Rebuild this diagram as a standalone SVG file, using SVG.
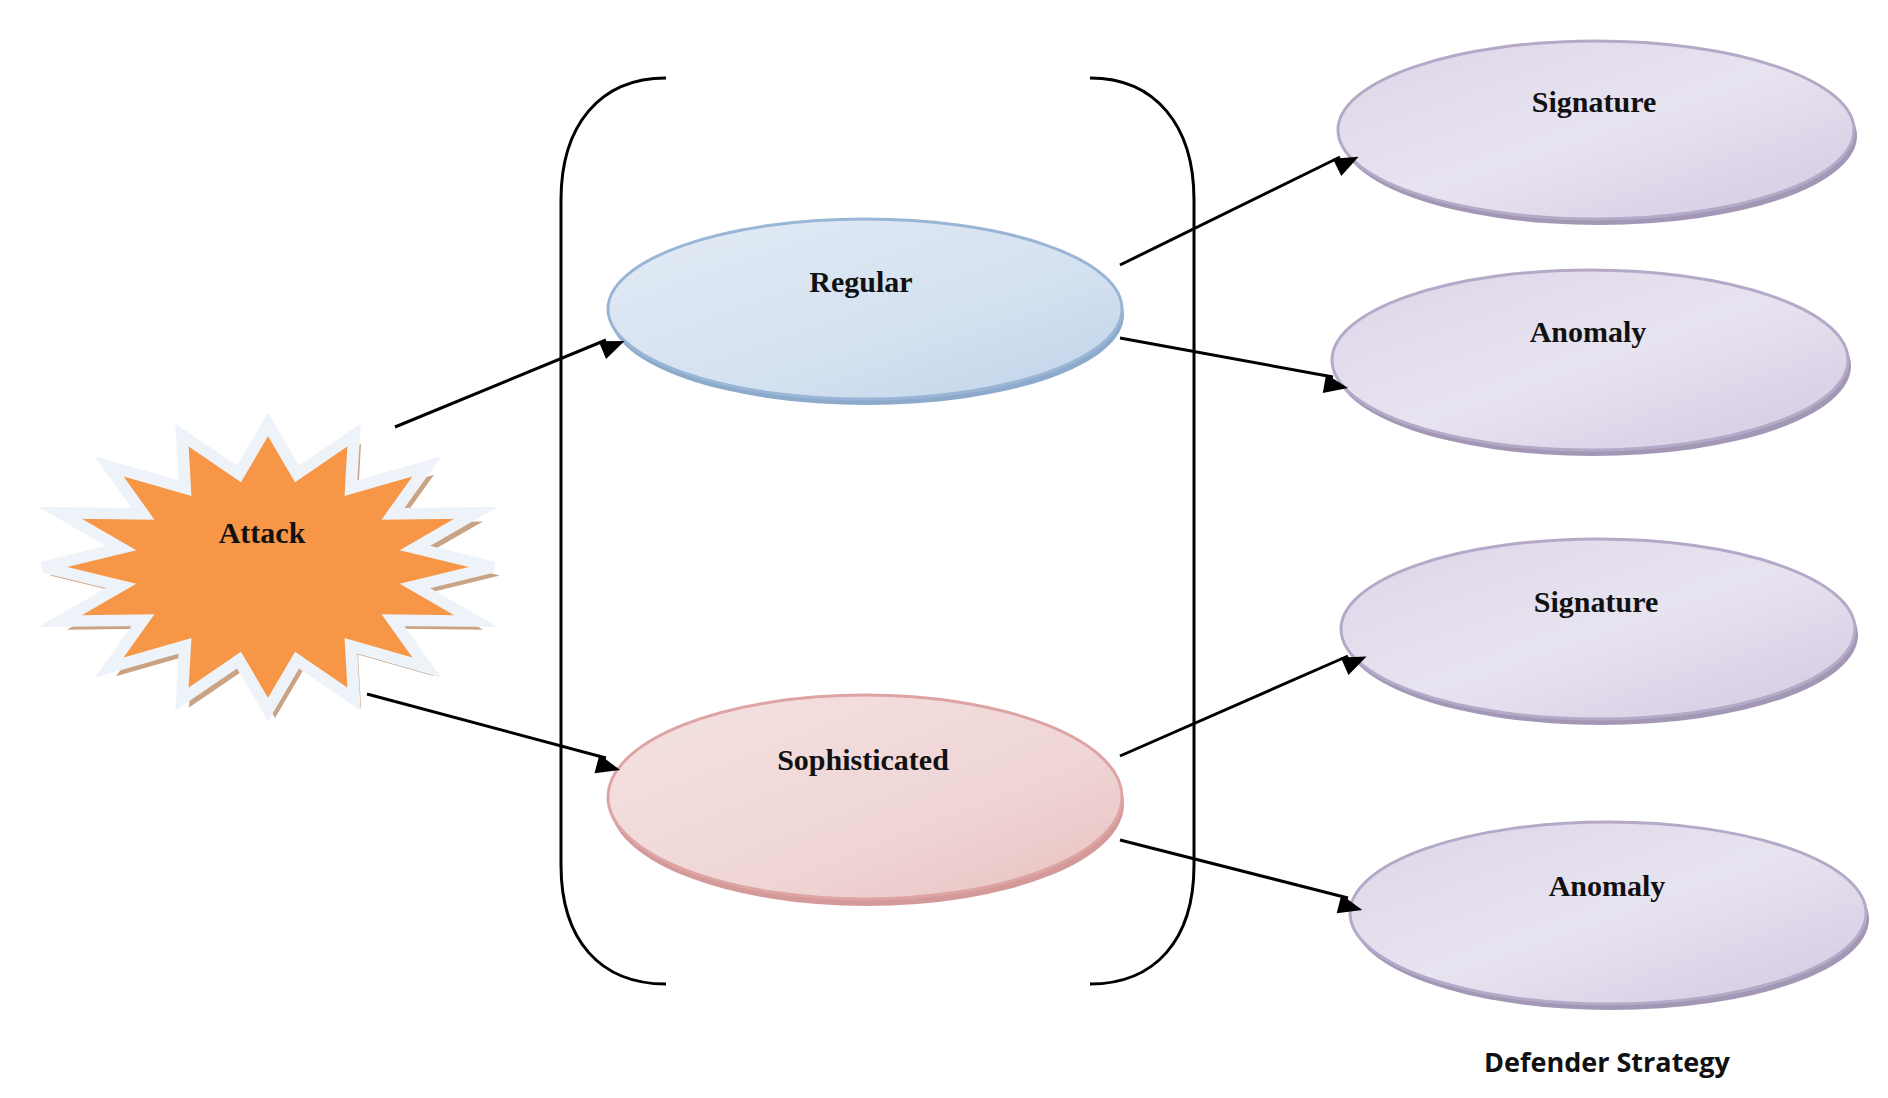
<svg xmlns="http://www.w3.org/2000/svg" width="1888" height="1098" viewBox="0 0 1888 1098">
<style>
.lbl{font-family:"Liberation Serif","Times New Roman",serif;font-weight:bold;font-size:30px;fill:#111;text-anchor:middle}
.cap{font-family:"Open Sans","Liberation Sans",sans-serif;font-weight:bold;font-size:27px;fill:#111;text-anchor:middle}
.conn{stroke:#000;stroke-width:3;fill:none;marker-end:url(#ah)}
.br{stroke:#000;stroke-width:3;fill:none}
</style>
<defs>
<marker id="ah" viewBox="0 0 10 10" refX="9" refY="5" markerWidth="8" markerHeight="8" orient="auto" markerUnits="userSpaceOnUse" style="overflow:visible">
<path d="M0,1 L10,5 L0,9 z" fill="#000" transform="scale(3)" />
</marker>
<linearGradient id="gb" x1="0" y1="0" x2="1" y2="1"><stop offset="0" stop-color="#e3ebf5"/><stop offset="0.6" stop-color="#d4e1f0"/><stop offset="1" stop-color="#c0d3ea"/></linearGradient>
<linearGradient id="gr" x1="0" y1="0" x2="1" y2="1"><stop offset="0" stop-color="#f4e1e1"/><stop offset="0.6" stop-color="#f0d6d6"/><stop offset="1" stop-color="#e8c0c0"/></linearGradient>
<linearGradient id="gp" x1="0" y1="0" x2="1" y2="1"><stop offset="0" stop-color="#dcd5e8"/><stop offset="0.5" stop-color="#e8e3f0"/><stop offset="1" stop-color="#d2c9e2"/></linearGradient>
</defs>
<rect width="1888" height="1098" fill="#fff"/>
<g id="brackets">
<path class="br" d="M666,78 C600,78 561,125 561,200 L561,865 C561,940 600,984 666,984"/>
<path class="br" d="M1090,78 C1155,78 1194,125 1194,200 L1194,865 C1194,940 1155,984 1090,984"/>
</g>
<g id="attack" transform="translate(0,567) scale(1,0.95) translate(0,-563)">
<polygon transform="translate(7,9)" fill="#c9a383" points="493,563 415,583 476,620 393,619 427,669 351,646 354,702 297,661 268,713 239,661 182,702 185,646 109,669 143,619 60,620 121,583 43,563 121,543 60,506 143,507 109,457 185,480 182,424 239,465 268,413 297,465 354,424 351,480 427,457 393,507 476,506 415,543"/>
<polygon fill="#f79646" stroke="#eef3f9" stroke-width="12" stroke-linejoin="miter" points="493,563 415,583 476,620 393,619 427,669 351,646 354,702 297,661 268,713 239,661 182,702 185,646 109,669 143,619 60,620 121,583 43,563 121,543 60,506 143,507 109,457 185,480 182,424 239,465 268,413 297,465 354,424 351,480 427,457 393,507 476,506 415,543"/>
</g>
<text class="lbl" x="262" y="543">Attack</text>
<g id="regular">
<ellipse cx="867" cy="315" rx="257" ry="90" fill="#8eaacb"/>
<ellipse cx="865" cy="309" rx="257" ry="90" fill="url(#gb)" stroke="#9ab6d6" stroke-width="3"/>
<text class="lbl" x="861" y="292">Regular</text>
</g>
<g id="sophisticated">
<ellipse cx="867" cy="804" rx="257" ry="102" fill="#d49a9a"/>
<ellipse cx="865" cy="797" rx="257" ry="102" fill="url(#gr)" stroke="#dea4a4" stroke-width="3"/>
<text class="lbl" x="863" y="770">Sophisticated</text>
</g>
<g id="signature1">
<ellipse cx="1599" cy="136" rx="258" ry="89" fill="#a297b5"/>
<ellipse cx="1596" cy="130" rx="258" ry="89" fill="url(#gp)" stroke="#b5a9c8" stroke-width="3"/>
<text class="lbl" x="1594" y="112">Signature</text>
</g>
<g id="anomaly1">
<ellipse cx="1593" cy="366" rx="258" ry="90" fill="#a297b5"/>
<ellipse cx="1590" cy="360" rx="258" ry="90" fill="url(#gp)" stroke="#b5a9c8" stroke-width="3"/>
<text class="lbl" x="1588" y="342">Anomaly</text>
</g>
<g id="signature2">
<ellipse cx="1601" cy="635" rx="257" ry="90" fill="#a297b5"/>
<ellipse cx="1598" cy="629" rx="257" ry="90" fill="url(#gp)" stroke="#b5a9c8" stroke-width="3"/>
<text class="lbl" x="1596" y="612">Signature</text>
</g>
<g id="anomaly2">
<ellipse cx="1611" cy="919" rx="258" ry="91" fill="#a297b5"/>
<ellipse cx="1608" cy="913" rx="258" ry="91" fill="url(#gp)" stroke="#b5a9c8" stroke-width="3"/>
<text class="lbl" x="1607" y="896">Anomaly</text>
</g>
<g id="caption">
<text class="cap" x="1607" y="1072">Defender Strategy</text>
</g>
<g id="connectors">
<line class="conn" x1="395" y1="427" x2="606" y2="340"/>
<line class="conn" x1="367" y1="694" x2="606" y2="758"/>
<line class="conn" x1="1120" y1="265" x2="1340" y2="157"/>
<line class="conn" x1="1120" y1="338" x2="1333" y2="377"/>
<line class="conn" x1="1120" y1="756" x2="1348" y2="656"/>
<line class="conn" x1="1120" y1="840" x2="1348" y2="898"/>
</g>
</svg>
